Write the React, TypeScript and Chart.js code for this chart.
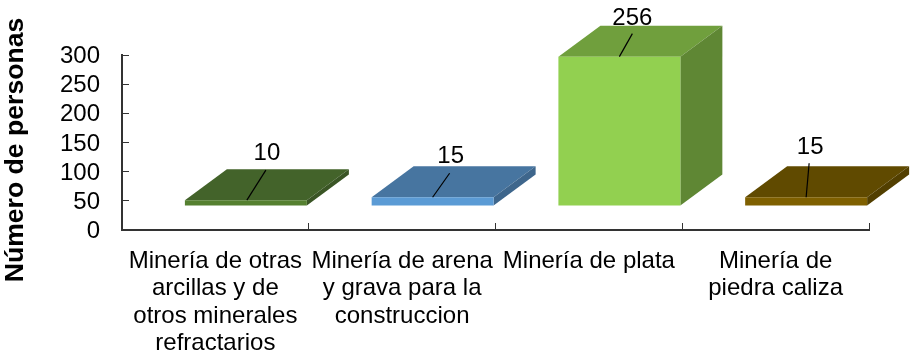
import React, { useEffect, useRef } from "react";
import { Chart, registerables } from "chart.js";

Chart.register(...registerables);

const categories = [
  ["Minería de otras", "arcillas y de", "otros minerales", "refractarios"],
  ["Minería de arena", "y grava para la", "construccion"],
  ["Minería de plata"],
  ["Minería de", "piedra caliza"],
];
const personas = [10, 15, 256, 15];
const yTitle = "Número de personas";

const frontColors = ["#558030", "#5b9bd5", "#92d050", "#7f6000"];
const topColors = ["#43632a", "#4775a0", "#709f3d", "#604a00"];
const sideColors = ["#3a5525", "#3e668c", "#5f8734", "#523f00"];

// Hand-placed data label offsets from the centre of each bar's front-top edge
const leaderEnd = [[20, -30], [17, -24], [13, -23], [3, -34]];
const labelCentre = [[21, -46.5], [18, -40.5], [13, -38.5], [4, -49.5]];
const leaderStartDx = [1, 0, 0, 0];

const FLOOR_DX = 30.5;
const FLOOR_DY = -24;
const DEPTH_DX = 42;
const DEPTH_DY = -31;
const FONT = '"Liberation Sans", Arial, sans-serif';

function poly(ctx: CanvasRenderingContext2D, pts: number[][], fill: string) {
  ctx.beginPath();
  pts.forEach(([x, y], i) => (i ? ctx.lineTo(x, y) : ctx.moveTo(x, y)));
  ctx.closePath();
  ctx.fillStyle = fill;
  ctx.fill();
}

const bar3d = {
  id: "bar3d",
  beforeDatasetsDraw(chart: any) {
    const ctx = chart.ctx as CanvasRenderingContext2D;
    ctx.save();
    ctx.translate(FLOOR_DX, FLOOR_DY);
    chart.getDatasetMeta(0).data.forEach((b: any, i: number) => {
      const l = b.x - b.width / 2;
      const r = b.x + b.width / 2;
      poly(ctx, [[l, b.y], [r, b.y], [r + DEPTH_DX, b.y + DEPTH_DY], [l + DEPTH_DX, b.y + DEPTH_DY]], topColors[i]);
      poly(ctx, [[r, b.y], [r + DEPTH_DX, b.y + DEPTH_DY], [r + DEPTH_DX, b.base + DEPTH_DY], [r, b.base]], sideColors[i]);
    });
    // the translate stays active so that the real bars are drawn as front faces
  },
  afterDatasetsDraw(chart: any) {
    const ctx = chart.ctx as CanvasRenderingContext2D;
    chart.getDatasetMeta(0).data.forEach((b: any, i: number) => {
      ctx.beginPath();
      ctx.moveTo(b.x + leaderStartDx[i], b.y);
      ctx.lineTo(b.x + leaderEnd[i][0], b.y + leaderEnd[i][1]);
      ctx.strokeStyle = "#000";
      ctx.lineWidth = 1.2;
      ctx.stroke();
      ctx.fillStyle = "#000";
      ctx.font = `24px ${FONT}`;
      ctx.textAlign = "center";
      ctx.textBaseline = "middle";
      ctx.fillText(String(personas[i]), b.x + labelCentre[i][0], b.y + labelCentre[i][1]);
    });
    ctx.restore();
  },
  afterDraw(chart: any) {
    const ctx = chart.ctx as CanvasRenderingContext2D;
    ctx.save();
    ctx.translate(16, 150);
    ctx.rotate(-Math.PI / 2);
    ctx.font = `bold 26.6px ${FONT}`;
    ctx.fillStyle = "#000";
    ctx.textAlign = "center";
    ctx.textBaseline = "middle";
    ctx.fillText(yTitle, 0, 0);
    ctx.restore();
  },
};

export default function App() {
  const ref = useRef<HTMLCanvasElement>(null);
  useEffect(() => {
    const chart = new Chart(ref.current!, {
      type: "bar",
      plugins: [bar3d],
      data: {
        labels: categories,
        datasets: [
          {
            data: personas,
            backgroundColor: frontColors,
            barPercentage: 0.653,
            categoryPercentage: 1,
            clip: false,
          } as any,
        ],
      },
      options: {
        animation: false,
        responsive: false,
        layout: { padding: { top: 55, right: 41, left: 0, bottom: 0 } },
        plugins: { legend: { display: false }, tooltip: { enabled: false } },
        scales: {
          x: {
            afterFit: (s: any) => { s.height = 126; },
            grid: { drawOnChartArea: false, tickLength: -7, color: "#333333", lineWidth: 1 },
            border: { color: "#333333", width: 2 },
            ticks: {
              color: "#000",
              maxRotation: 0,
              minRotation: 0,
              autoSkip: false,
              padding: 25,
              font: { family: FONT, size: 24, lineHeight: 1.135 },
            },
          },
          y: {
            min: 0,
            max: 300,
            afterFit: (s: any) => { s.width = 122; },
            grid: { drawOnChartArea: false, tickLength: -7, color: "#333333", lineWidth: 1 },
            border: { color: "#333333", width: 2 },
            ticks: {
              stepSize: 50,
              autoSkip: false,
              color: "#000",
              padding: 29,
              labelOffset: 1.5,
              font: { family: FONT, size: 24 },
            },
          },
        },
      },
    });
    return () => chart.destroy();
  }, []);
  return (
    <div style={{ position: "absolute", left: 0, top: 0, width: 910, height: 356, overflow: "hidden", background: "#fff" }}>
      <canvas ref={ref} width={910} height={356} style={{ display: "block" }} />
    </div>
  );
}
